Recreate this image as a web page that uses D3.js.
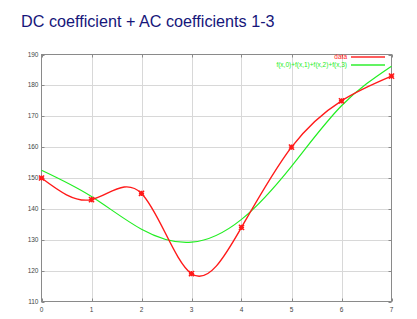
<!DOCTYPE html>
<html>
<head>
<meta charset="utf-8">
<script src="https://cdn.jsdelivr.net/npm/d3@7"></script>
<style>
  html, body { margin: 0; padding: 0; background: #fff; }
  svg { display: block; font-family: "Liberation Sans", Arial, sans-serif; }
</style>
</head>
<body>
<div id="chart"></div>
<script>
// values
const xs = [0, 1, 2, 3, 4, 5, 6, 7];
const dataValues = [150, 143, 145, 119, 134, 160, 175, 183];
const approxValues = [152.5, 144, 133.4, 129.2, 136.6, 153.8, 173.4, 186.2];
const yTicks = [110, 120, 130, 140, 150, 160, 170, 180, 190];
const xTicks = [0, 1, 2, 3, 4, 5, 6, 7];
const legendLabels = ["data", "f(x,0)+f(x,1)+f(x,2)+f(x,3)"];

const width = 417, height = 319;
const margin = { top: 54.5, right: 25.5, bottom: 17.5, left: 41.5 };

const svg = d3.select("#chart").append("svg")
  .attr("width", width)
  .attr("height", height);

svg.append("text")
  .attr("x", 21)
  .attr("y", 27)
  .attr("fill", "#16167a")
  .attr("font-size", 16.2)
  .text("DC coefficient + AC coefficients 1-3");

const x = d3.scaleLinear().domain([0, 7]).range([margin.left, width - margin.right]);
const y = d3.scaleLinear().domain([110, 190]).range([height - margin.bottom, margin.top]);

// grid
const grid = svg.append("g").attr("stroke", "#d8d8d8").attr("stroke-width", 1);
grid.selectAll(".gx").data(xTicks.slice(1, -1)).join("line")
  .attr("x1", (d) => Math.round(x(d)) + 0.5).attr("x2", (d) => Math.round(x(d)) + 0.5)
  .attr("y1", y(110)).attr("y2", y(190));
grid.selectAll(".gy").data(yTicks.slice(1, -1)).join("line")
  .attr("x1", x(0)).attr("x2", x(7))
  .attr("y1", (d) => Math.round(y(d)) + 0.5).attr("y2", (d) => Math.round(y(d)) + 0.5);

// frame
svg.append("rect")
  .attr("x", x(0)).attr("y", y(190))
  .attr("width", x(7) - x(0)).attr("height", y(110) - y(190))
  .attr("fill", "none").attr("stroke", "#8a8a8a");

// inward ticks
const ticks = svg.append("g").attr("stroke", "#8a8a8a");
xTicks.forEach((d) => {
  const px = Math.round(x(d)) + 0.5;
  ticks.append("line").attr("x1", px).attr("x2", px).attr("y1", y(110)).attr("y2", y(110) - 3);
  ticks.append("line").attr("x1", px).attr("x2", px).attr("y1", y(190)).attr("y2", y(190) + 3);
});
yTicks.forEach((d) => {
  const py = Math.round(y(d)) + 0.5;
  ticks.append("line").attr("x1", x(0)).attr("x2", x(0) + 3).attr("y1", py).attr("y2", py);
  ticks.append("line").attr("x1", x(7)).attr("x2", x(7) - 3).attr("y1", py).attr("y2", py);
});

// tick labels
svg.append("g").selectAll("text").data(yTicks).join("text")
  .attr("x", x(0) - 3).attr("y", (d) => y(d) + 2)
  .attr("text-anchor", "end").attr("font-size", 6.5).attr("fill", "#444")
  .text((d) => d);
svg.append("g").selectAll("text").data(xTicks).join("text")
  .attr("x", (d) => x(d)).attr("y", y(110) + 10)
  .attr("text-anchor", "middle").attr("font-size", 6.5).attr("fill", "#444")
  .text((d) => d);

// curves
const line = (vals) => d3.line()
  .x((d, i) => x(xs[i]))
  .y((d) => y(d))
  .curve(d3.curveNatural)(vals);

svg.append("path").attr("d", line(approxValues))
  .attr("fill", "none").attr("stroke", "#22ee22").attr("stroke-width", 1.2);

svg.append("path").attr("d", line(dataValues))
  .attr("fill", "none").attr("stroke", "#ff1a1a").attr("stroke-width", 1.4);

// star markers
const r = 2.6;
const marks = svg.append("g").attr("stroke", "#ff1a1a").attr("stroke-width", 1.4);
dataValues.forEach((v, i) => {
  const cx = x(xs[i]), cy = y(v);
  marks.append("path")
    .attr("d", `M${cx - r},${cy}H${cx + r}M${cx},${cy - r}V${cy + r}` +
      `M${cx - r},${cy - r}L${cx + r},${cy + r}M${cx - r},${cy + r}L${cx + r},${cy - r}`);
});

// legend
const legendColors = ["#ff1a1a", "#22ee22"];
const legend = svg.append("g");
legendLabels.forEach((t, i) => {
  const ly = 57 + i * 8;
  legend.append("text")
    .attr("x", 347).attr("y", ly + 2.2)
    .attr("text-anchor", "end").attr("font-size", 6.5)
    .attr("fill", legendColors[i])
    .text(t);
  legend.append("rect")
    .attr("x", 351).attr("y", ly - 0.7)
    .attr("width", 34).attr("height", 1.4)
    .attr("fill", legendColors[i]);
});
</script>
</body>
</html>
